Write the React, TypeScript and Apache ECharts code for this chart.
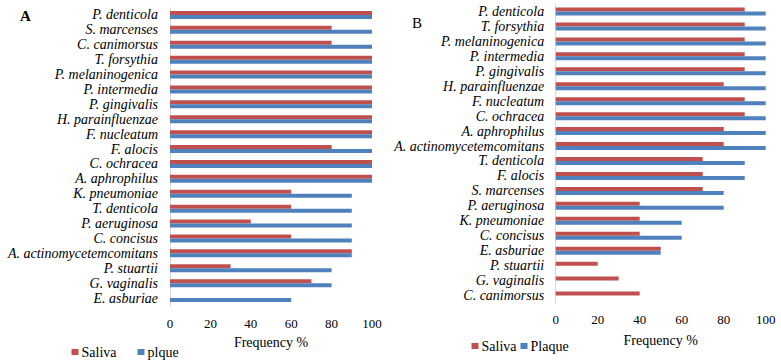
import React, { useEffect, useRef } from "react";
import * as echarts from "echarts";

const categoriesA = [
  "P. denticola", "S. marcenses", "C. canimorsus", "T. forsythia", "P. melaninogenica",
  "P. intermedia", "P. gingivalis", "H. parainfluenzae", "F. nucleatum", "F. alocis",
  "C. ochracea", "A. aphrophilus", "K. pneumoniae", "T. denticola", "P. aeruginosa",
  "C. concisus", "A. actinomycetemcomitans", "P. stuartii", "G. vaginalis", "E. asburiae",
];
const salivaA = [100, 80, 80, 100, 100, 100, 100, 100, 100, 80, 100, 100, 60, 60, 40, 60, 90, 30, 70, 0];
const plaqueA = [100, 100, 100, 100, 100, 100, 100, 100, 100, 100, 100, 100, 90, 90, 90, 90, 90, 80, 80, 60];

const categoriesB = [
  "P. denticola", "T. forsythia", "P. melaninogenica", "P. intermedia", "P. gingivalis",
  "H. parainfluenzae", "F. nucleatum", "C. ochracea", "A. aphrophilus", "A. actinomycetemcomitans",
  "T. denticola", "F. alocis", "S. marcenses", "P. aeruginosa", "K. pneumoniae",
  "C. concisus", "E. asburiae", "P. stuartii", "G. vaginalis", "C. canimorsus",
];
const salivaB = [90, 90, 90, 90, 90, 80, 90, 90, 80, 80, 70, 70, 70, 40, 40, 40, 50, 20, 30, 40];
const plaqueB = [100, 100, 100, 100, 100, 100, 100, 100, 100, 100, 90, 90, 80, 80, 60, 60, 50, 0, 0, 0];

const xTicks = [0, 20, 40, 60, 80, 100];

const RED = "#C0504D";
const BLUE = "#4F81BD";
const FONT = "'Liberation Serif', serif";

export default function App() {
  const ref = useRef<HTMLDivElement>(null);
  useEffect(() => {
    if (!ref.current) return;
    const chart = echarts.init(ref.current, undefined, { renderer: "svg" });
    const txt = { color: "#000", fontFamily: FONT, fontSize: 13 };
    const xAxisCommon = (gridIndex: number, nameGap: number, margin: number) => ({
      type: "value",
      gridIndex,
      min: xTicks[0],
      max: xTicks[xTicks.length - 1],
      interval: 20,
      axisLine: { show: false },
      axisTick: { show: false },
      splitLine: { show: false },
      axisLabel: { ...txt, margin },
      name: "Frequency %",
      nameLocation: "middle",
      nameGap,
      nameTextStyle: { ...txt, fontSize: 14 },
    });
    const yAxisCommon = (gridIndex: number, data: string[], margin: number) => ({
      type: "category",
      gridIndex,
      data,
      inverse: true,
      axisLine: { show: true, lineStyle: { color: "#d9d9d9", width: 1 } },
      axisTick: { show: false },
      splitLine: { show: false },
      axisLabel: { ...txt, fontSize: 14, fontStyle: "italic", margin, interval: 0 },
    });
    const bar = (name: string, data: number[], color: string, idx: number) => ({
      type: "bar",
      name,
      data,
      xAxisIndex: idx,
      yAxisIndex: idx,
      barWidth: 4,
      barGap: "0%",
      itemStyle: { color },
    });
    chart.setOption({
      animation: false,
      textStyle: { fontFamily: FONT, fontSize: 13, color: "#000" },
      grid: [
        { left: 170, top: 7.5, width: 202, height: 298 },
        { left: 555.7, top: 4, width: 210, height: 299 },
      ],
      xAxis: [xAxisCommon(0, 30, 11), xAxisCommon(1, 30, 10)],
      yAxis: [yAxisCommon(0, categoriesA, 12), yAxisCommon(1, categoriesB, 11.5)],
      legend: [
        {
          data: ["Saliva", "plque"],
          left: 71.5,
          top: 345,
          icon: "rect",
          itemWidth: 7,
          itemHeight: 6,
          itemGap: 21,
          padding: 0,
          textStyle: { ...txt, fontSize: 14, padding: [0, 0, 0, -2] },
          selectedMode: false,
        },
        {
          data: ["Saliva", "Plaque"],
          left: 471.5,
          top: 339,
          icon: "rect",
          itemWidth: 7,
          itemHeight: 6,
          itemGap: 4,
          padding: 0,
          textStyle: { ...txt, fontSize: 14, padding: [0, 0, 0, -2] },
          selectedMode: false,
        },
      ],
      series: [
        bar("Saliva", salivaA, RED, 0),
        bar("plque", plaqueA, BLUE, 0),
        bar("Saliva", salivaB, RED, 1),
        bar("Plaque", plaqueB, BLUE, 1),
      ],
      graphic: [
        {
          type: "text",
          left: 20,
          top: 8,
          style: { text: "A", font: "bold 15px 'Liberation Serif', serif", fill: "#000" },
        },
        {
          type: "text",
          left: 412,
          top: 15,
          style: { text: "B", font: "15px 'Liberation Serif', serif", fill: "#000" },
        },
      ],
    });
    return () => chart.dispose();
  }, []);
  return (
    <div
      ref={ref}
      style={{ position: "fixed", left: 0, top: 0, width: 781, height: 363, background: "#fff" }}
    />
  );
}
